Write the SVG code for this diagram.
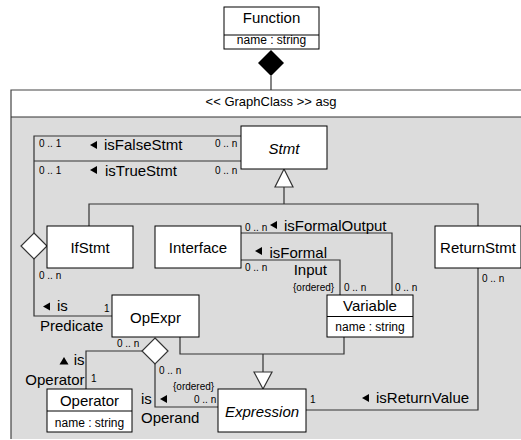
<svg xmlns="http://www.w3.org/2000/svg" width="521" height="440" viewBox="0 0 521 440">
  <defs>
    <style>
      text { font-family: "Liberation Sans", Arial, sans-serif; fill: #000; }
      .cls { font-size: 15px; text-anchor: middle; }
      .abs { font-style: italic; }
      .attr { font-size: 12px; text-anchor: middle; }
      .role { font-size: 15px; }
      .mult { font-size: 10px; }
      .box { fill: #fff; stroke: #000; stroke-width: 1; }
      .edge { fill: none; stroke: #333; stroke-width: 1.2; }
      .gen { fill: #fff; stroke: #333; stroke-width: 1.2; }
      .dir { fill: #000; }
    </style>
    <!-- small reading-direction arrows -->
    <path id="left" d="M0,0 L7,-4 L7,4 Z"/>
    <path id="up" d="M0,-4 L4.5,3.5 L-4.5,3.5 Z"/>
  </defs>

  <!-- owning class -->
  <g id="function">
    <rect class="box" x="224" y="7" width="95" height="42"/>
    <line x1="224" y1="35" x2="319" y2="35" stroke="#000"/>
    <text class="cls" x="271.5" y="23">Function</text>
    <text class="attr" x="271.5" y="44">name : string</text>
  </g>

  <!-- graph class frame -->
  <g id="graphclass">
    <rect x="11" y="117" width="520" height="322" fill="#dcdcdc"/>
    <rect x="11" y="90" width="520" height="27" fill="#fff"/>
    <path d="M11,439 V90 H531" fill="none" stroke="#444" stroke-width="1.2"/>
    <line x1="11" y1="117" x2="531" y2="117" stroke="#333" stroke-width="1.2"/>
    <text x="271" y="106" font-size="13" text-anchor="middle">&lt;&lt; GraphClass &gt;&gt; asg</text>
  </g>

  <!-- connectors -->
  <g id="connectors">
    <!-- composition Function <>- asg -->
    <line class="edge" x1="271" y1="76" x2="271" y2="90"/>
    <path d="M271,50 L284,63 L271,76 L258,63 Z" fill="#000"/>

    <!-- isFalseStmt / isTrueStmt -->
    <path class="edge" d="M241,136 H34 V233"/>
    <path class="edge" d="M241,161 H34"/>
    <!-- isPredicate -->
    <path class="edge" d="M34,259 V316 H112"/>
    <path d="M34,233 L47,246 L34,259 L21,246 Z" fill="#fff" stroke="#333" stroke-width="1.2"/>

    <!-- Stmt generalization -->
    <path class="edge" d="M284,187 V204 M89,226 V204 H478 V226"/>
    <path class="gen" d="M284,169 L293,187 L275,187 Z"/>

    <!-- isFormalOutput / isFormalInput -->
    <path class="edge" d="M241,233 H392 V295"/>
    <path class="edge" d="M241,260 H340 V295"/>

    <!-- isReturnValue -->
    <path class="edge" d="M478,268 V410 H306"/>

    <!-- Expression generalization -->
    <path class="edge" d="M180,337 V354 H344 V337 M263,354 V372"/>
    <path class="gen" d="M263,389 L254,372 L272,372 Z"/>

    <!-- isOperator / isOperand -->
    <path class="edge" d="M142,351 H86 V389"/>
    <path class="edge" d="M155,364 V407 H218"/>
    <path d="M155,338 L168,351 L155,364 L142,351 Z" fill="#fff" stroke="#333" stroke-width="1.2"/>

    <!-- association labels -->
    <text class="mult" x="39" y="147">0 .. 1</text>
    <use href="#left" class="dir" x="90" y="145"/>
    <text class="role" x="104" y="150">isFalseStmt</text>
    <text class="mult" x="215" y="147">0 .. n</text>

    <text class="mult" x="39" y="174">0 .. 1</text>
    <use href="#left" class="dir" x="90" y="170"/>
    <text class="role" x="105" y="176">isTrueStmt</text>
    <text class="mult" x="215" y="174">0 .. n</text>

    <text class="mult" x="39" y="279">0 .. n</text>
    <use href="#left" class="dir" x="43" y="306.5"/>
    <text class="role" x="57" y="311">is</text>
    <text class="mult" x="104" y="312">1</text>
    <text class="role" x="40" y="331">Predicate</text>

    <text class="mult" x="245" y="231">0 .. n</text>
    <use href="#left" class="dir" x="270" y="225"/>
    <text class="role" x="284" y="231">isFormalOutput</text>
    <text class="mult" x="395" y="291">0 .. n</text>

    <text class="mult" x="245" y="271">0 .. n</text>
    <use href="#left" class="dir" x="255" y="251"/>
    <text class="role" x="327" y="258" text-anchor="end">isFormal</text>
    <text class="role" x="327" y="275" text-anchor="end">Input</text>
    <text class="mult" x="293" y="291" font-size="9">{ordered}</text>
    <text class="mult" x="344" y="291">0 .. n</text>

    <text class="mult" x="482" y="282">0 .. n</text>
    <use href="#left" class="dir" x="362" y="398"/>
    <text class="role" x="376" y="403">isReturnValue</text>
    <text class="mult" x="310" y="403">1</text>

    <text class="mult" x="117" y="347">0 .. n</text>
    <use href="#up" class="dir" x="64" y="361"/>
    <text class="role" x="84.5" y="365" text-anchor="end">is</text>
    <text class="role" x="84.5" y="385" text-anchor="end">Operator</text>
    <text class="mult" x="91" y="382">1</text>

    <text class="mult" x="159" y="374">0 .. n</text>
    <text class="mult" x="173" y="390" font-size="9">{ordered}</text>
    <text class="role" x="141" y="404">is</text>
    <use href="#left" class="dir" x="160" y="399"/>
    <text class="mult" x="194" y="403">0 .. n</text>
    <text class="role" x="141" y="423">Operand</text>
  </g>

  <!-- vertex classes -->
  <g id="stmt">
    <rect class="box" x="241" y="126" width="86" height="43"/>
    <text class="cls abs" x="284" y="154">Stmt</text>
  </g>
  <g id="ifstmt">
    <rect class="box" x="47" y="226" width="86" height="42"/>
    <text class="cls" x="90" y="253">IfStmt</text>
  </g>
  <g id="interface">
    <rect class="box" x="155" y="226" width="86" height="42"/>
    <text class="cls" x="198" y="253">Interface</text>
  </g>
  <g id="returnstmt">
    <rect class="box" x="435" y="226" width="86" height="42"/>
    <text class="cls" x="478" y="253">ReturnStmt</text>
  </g>
  <g id="variable">
    <rect class="box" x="327" y="295" width="86" height="42"/>
    <line x1="327" y1="316.5" x2="413" y2="316.5" stroke="#000"/>
    <text class="cls" x="370" y="311">Variable</text>
    <text class="attr" x="370" y="331">name : string</text>
  </g>
  <g id="opexpr">
    <rect class="box" x="112" y="295" width="87" height="42"/>
    <text class="cls" x="155.5" y="323">OpExpr</text>
  </g>
  <g id="operator">
    <rect class="box" x="47" y="389" width="85" height="43"/>
    <line x1="47" y1="411" x2="132" y2="411" stroke="#000"/>
    <text class="cls" x="89.5" y="406">Operator</text>
    <text class="attr" x="89.5" y="427">name : string</text>
  </g>
  <g id="expression">
    <rect class="box" x="218" y="389" width="88" height="43"/>
    <text class="cls abs" x="262" y="417">Expression</text>
  </g>
</svg>
